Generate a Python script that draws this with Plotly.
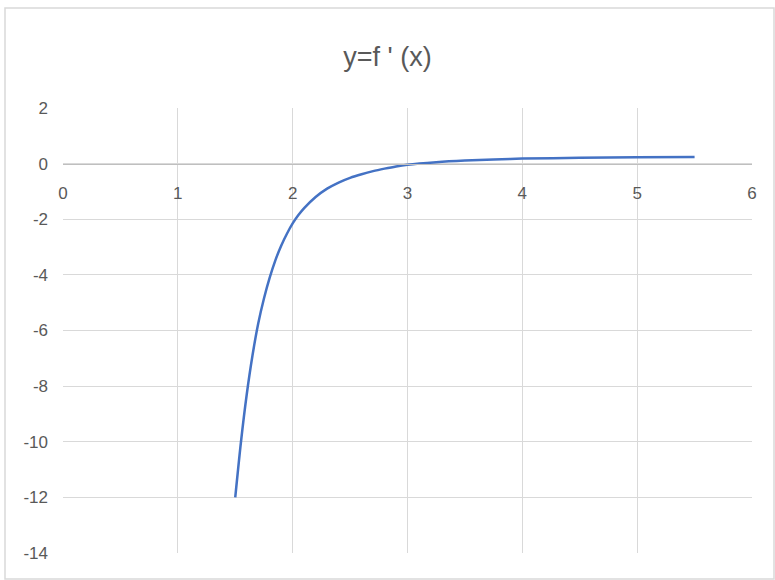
import plotly.graph_objects as go

# Derivative curve y = f'(x), sampled points
x_vals = [1.5, 1.55, 1.6, 1.65, 1.7, 1.75, 1.8, 1.85, 1.9, 1.95, 2.0, 2.05,
          2.1, 2.2, 2.3, 2.4, 2.5, 2.6, 2.7, 2.8, 2.9, 3.0, 3.25, 3.5, 3.75,
          4.0, 4.5, 5.0, 5.5]
y_vals = [-12.0, -10.0, -8.3, -6.9, -5.75, -4.85, -4.1, -3.47, -2.95, -2.52,
          -2.15, -1.85, -1.6, -1.2, -0.9, -0.68, -0.51, -0.38, -0.27, -0.18,
          -0.1, -0.04, 0.05, 0.11, 0.15, 0.18, 0.21, 0.23, 0.24]

x_ticks = [0, 1, 2, 3, 4, 5, 6]
y_ticks = [2, 0, -2, -4, -6, -8, -10, -12, -14]

FONT = "Liberation Sans Narrow, Liberation Sans, Arial, sans-serif"
GREY_TXT = "#595959"

fig = go.Figure()
fig.add_trace(go.Scatter(
    x=x_vals, y=y_vals, mode="lines",
    line=dict(color="#4472C4", width=2.5, shape="spline", smoothing=0.8),
    hoverinfo="skip", showlegend=False,
))

# y = 0 sits at this fraction of the plot height
y_min, y_max = -14, 2
zero_pos = (0 - y_min) / (y_max - y_min)

fig.update_layout(
    width=775, height=580,
    margin=dict(l=63, r=23, t=108, b=27),
    paper_bgcolor="white", plot_bgcolor="white",
    title=dict(text="y=f ' (x)", x=0.5, xanchor="center", y=0.902, yanchor="middle",
               font=dict(family=FONT, size=27, color=GREY_TXT)),
    xaxis=dict(
        range=[0, 6], tickvals=x_ticks, ticktext=[str(v) for v in x_ticks],
        showgrid=True, gridcolor="#d9d9d9", gridwidth=1,
        zeroline=False, showline=True, linecolor="#bfbfbf", linewidth=1,
        anchor="free", position=zero_pos,
        ticks="", ticklabelstandoff=14,
        tickfont=dict(family=FONT, size=17, color=GREY_TXT),
    ),
    yaxis=dict(
        range=[y_min, y_max], tickvals=y_ticks, ticktext=[str(v) for v in y_ticks],
        showgrid=True, gridcolor="#d9d9d9", gridwidth=1,
        zeroline=False, showline=False,
        ticks="", ticklabelstandoff=14,
        tickfont=dict(family=FONT, size=17, color=GREY_TXT),
    ),
    shapes=[
        # chart frame
        dict(type="rect", xref="paper", yref="paper",
             x0=(5 - 63) / 689, x1=(774 - 63) / 689,
             y0=(553 - 579) / 445, y1=1 + (108 - 8) / 445,
             line=dict(color="#d9d9d9", width=1.5), layer="below"),
    ],
)

fig.write_html("out.html")
